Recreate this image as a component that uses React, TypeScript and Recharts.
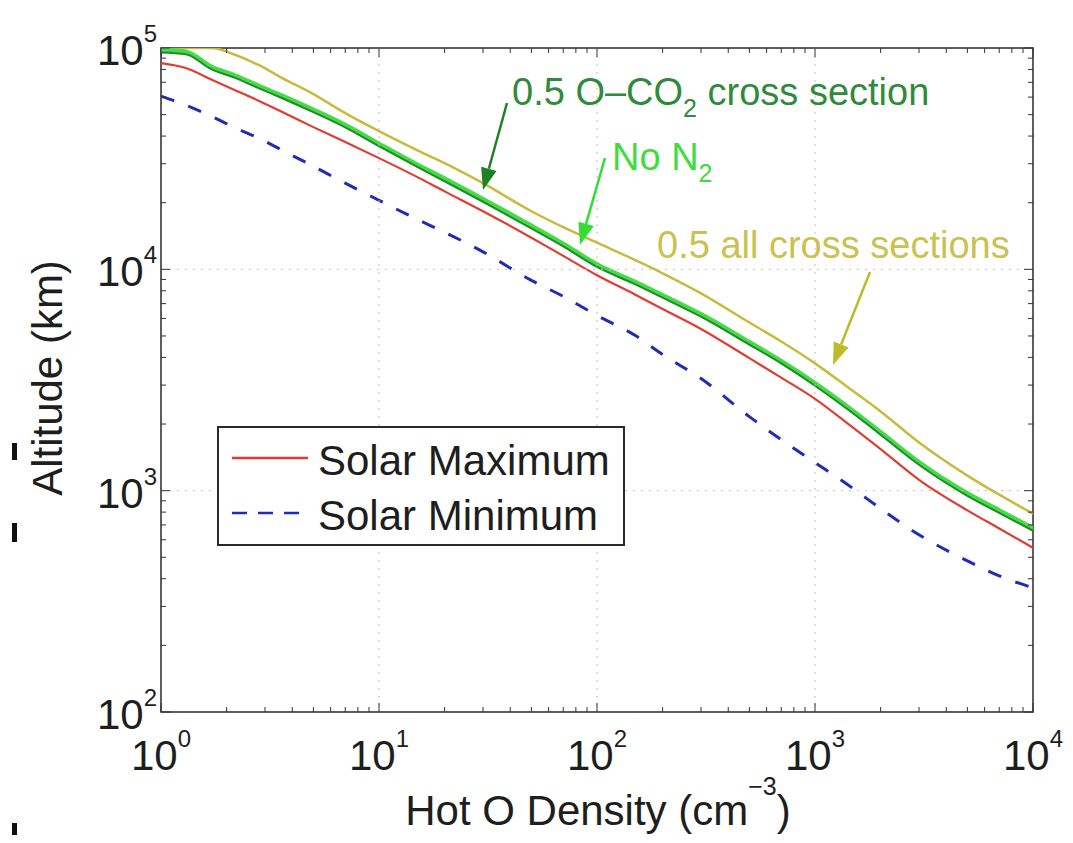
import React from 'react';
import { LineChart, Line, XAxis, YAxis, ReferenceArea, Legend } from 'recharts';

// ---------- data ----------
const densities = [1, 1.3, 1.7, 2.2, 2.8, 3.6, 5, 7, 10, 15, 20, 30, 50, 70, 100, 150, 200, 300, 500, 700, 1000, 1500, 2000, 3000, 5000, 7000, 10000];
const solarMax = [85500, 81200, 72100, 64300, 57800, 51400, 43900, 37600, 31800, 26100, 22500, 18300, 13900, 11500, 9400, 7680, 6620, 5380, 3970, 3240, 2600, 1920, 1540, 1120, 815, 675, 552];
const solarMin = [60600, 55200, 49200, 43500, 39200, 34500, 29200, 24500, 20500, 16800, 14700, 12000, 8910, 7550, 6190, 5020, 4120, 3210, 2160, 1700, 1340, 1020, 829, 632, 482, 412, 364];
const noN2 = [97900, 95900, 82000, 74700, 67300, 60600, 52400, 44800, 36800, 29600, 25600, 20700, 15700, 13000, 10500, 8740, 7620, 6250, 4670, 3840, 3050, 2280, 1830, 1340, 969, 812, 674];
const halfOCO2 = [95500, 93800, 80200, 73100, 65900, 59300, 51300, 43800, 36000, 29000, 25000, 20200, 15300, 12700, 10250, 8550, 7450, 6110, 4570, 3760, 2980, 2230, 1790, 1310, 948, 794, 659];
const halfAll = [100000, 100000, 100000, 93000, 83800, 73100, 61900, 50800, 42100, 34500, 30200, 24500, 18300, 15500, 13200, 11000, 9600, 7790, 5750, 4720, 3760, 2810, 2280, 1650, 1170, 959, 787];

const xMajorTicks = [1, 10, 100, 1000, 10000];
const yMajorTicks = [100, 1000, 10000, 100000];
const minorMultipliers = [2, 3, 4, 5, 6, 7, 8, 9];

const xTicks = [...xMajorTicks, ...xMajorTicks.slice(0, -1).flatMap((d) => minorMultipliers.map((m) => m * d))].sort((a, b) => a - b);
const yTicks = [...yMajorTicks, ...yMajorTicks.slice(0, -1).flatMap((d) => minorMultipliers.map((m) => m * d))].sort((a, b) => a - b);

const rows = densities.map((x, i) => ({
  x,
  max: solarMax[i],
  min: solarMin[i],
  noN2: noN2[i],
  halfOCO2: halfOCO2[i],
  halfAll: halfAll[i],
}));

// ---------- layout / style ----------
const W = 1073;
const H = 843;
const PLOT_TOP = 48;
const PLOT_BOTTOM = 712;
const PLOT_LEFT = 161;
const PLOT_RIGHT = 1033;
const FONT = '"Liberation Sans", Arial, Helvetica, sans-serif';
const TEXT = '#1e1e1e';
const AXIS_FS = 42;
const NOTE_FS = 38;

const RED = '#e03c32';
const BLUE = '#1f2db4';
const YELLOW = '#c8ba3c';
const BRIGHT_GREEN = '#46dc46';
const DARK_GREEN = '#1f8c2a';

const isMajor = (v: number) => {
  const lg = Math.log10(v);
  return Math.abs(lg - Math.round(lg)) < 1e-6;
};

const XTick = (props: any) => {
  const { x, payload } = props;
  const v = payload.value;
  const major = isMajor(v);
  const len = major ? 9 : 5;
  const exp = Math.round(Math.log10(v));
  return (
    <g>
      {major && v > 1 && v < 10000 && (
        <line x1={x} x2={x} y1={PLOT_TOP} y2={PLOT_BOTTOM} stroke="#bdbdbd" strokeWidth={1} strokeDasharray="2 6" />
      )}
      <line x1={x} x2={x} y1={PLOT_BOTTOM} y2={PLOT_BOTTOM - len} stroke="#333" strokeWidth={1} />
      <line x1={x} x2={x} y1={PLOT_TOP} y2={PLOT_TOP + len} stroke="#333" strokeWidth={1} />
      {major && (
        <text x={x} y={770} textAnchor="middle" fontFamily={FONT} fontSize={AXIS_FS} fill={TEXT}>
          <tspan>10</tspan>
          <tspan dy={-23} fontSize={24}>{exp}</tspan>
        </text>
      )}
    </g>
  );
};

const YTick = (props: any) => {
  const { y, payload } = props;
  const v = payload.value;
  const major = isMajor(v);
  const len = major ? 9 : 5;
  const exp = Math.round(Math.log10(v));
  return (
    <g>
      {major && v > 100 && v < 100000 && (
        <line x1={PLOT_LEFT} x2={PLOT_RIGHT} y1={y} y2={y} stroke="#bdbdbd" strokeWidth={1} strokeDasharray="2 6" />
      )}
      <line x1={PLOT_LEFT} x2={PLOT_LEFT + len} y1={y} y2={y} stroke="#333" strokeWidth={1} />
      <line x1={PLOT_RIGHT} x2={PLOT_RIGHT - len} y1={y} y2={y} stroke="#333" strokeWidth={1} />
      {major && (
        <text x={157} y={y + 17} textAnchor="end" fontFamily={FONT} fontSize={AXIS_FS} fill={TEXT}>
          <tspan>10</tspan>
          <tspan dy={-23} fontSize={24}>{exp}</tspan>
        </text>
      )}
    </g>
  );
};

const legendItems = [
  { name: 'Solar Maximum', color: RED, dash: undefined as string | undefined },
  { name: 'Solar Minimum', color: BLUE, dash: '15 11' },
];

const LegendBox = () => (
  <svg width={408} height={120} style={{ display: 'block' }}>
    <rect x={1} y={1} width={406} height={118} fill="#fff" stroke="#2a2a2a" strokeWidth={2} />
    {legendItems.map((it, i) => (
      <g key={it.name}>
        <line x1={15} x2={91} y1={32 + i * 55} y2={32 + i * 55} stroke={it.color} strokeWidth={2.5} strokeDasharray={it.dash} />
        <text x={101} y={49 + i * 55} fontFamily={FONT} fontSize={AXIS_FS} fill={TEXT}>{it.name}</text>
      </g>
    ))}
  </svg>
);

const Arrow = ({ x1, y1, x2, y2, color }: { x1: number; y1: number; x2: number; y2: number; color: string }) => {
  const dx = x2 - x1;
  const dy = y2 - y1;
  const L = Math.sqrt(dx * dx + dy * dy);
  const ux = dx / L;
  const uy = dy / L;
  const hl = 22;
  const hw = 8;
  const bx = x2 - ux * hl;
  const by = y2 - uy * hl;
  const p1 = `${bx - uy * hw},${by + ux * hw}`;
  const p2 = `${bx + uy * hw},${by - ux * hw}`;
  return (
    <g>
      <line x1={x1} y1={y1} x2={bx} y2={by} stroke={color} strokeWidth={2.5} />
      <polygon points={`${x2},${y2} ${p1} ${p2}`} fill={color} />
    </g>
  );
};

export default function App() {
  return (
    <div style={{ position: 'absolute', left: 0, top: 0, width: W, height: H, background: '#fff', overflow: 'hidden' }}>
      <LineChart width={W} height={H} data={rows} margin={{ top: PLOT_TOP, right: W - PLOT_RIGHT, left: PLOT_LEFT - 100, bottom: H - PLOT_BOTTOM - 60 }}>
        <XAxis
          dataKey="x"
          type="number"
          scale="log"
          domain={[1, 10000]}
          allowDataOverflow
          ticks={xTicks}
          interval={0}
          tick={<XTick />}
          tickLine={false}
          axisLine={false}
          height={60}
        />
        <YAxis
          type="number"
          scale="log"
          domain={[100, 100000]}
          allowDataOverflow
          ticks={yTicks}
          interval={0}
          tick={<YTick />}
          tickLine={false}
          axisLine={false}
          width={100}
        />
        <ReferenceArea x1={1} x2={10000} y1={100} y2={100000} fill="none" stroke="#2a2a2a" strokeWidth={1.5} ifOverflow="visible" />
        <Line type="monotone" dataKey="halfAll" name="0.5 all cross sections" stroke={YELLOW} strokeWidth={2.5} dot={false} legendType="none" isAnimationActive={false} />
        <Line type="monotone" dataKey="noN2" name="No N2" stroke={BRIGHT_GREEN} strokeWidth={5} dot={false} legendType="none" isAnimationActive={false} />
        <Line type="monotone" dataKey="halfOCO2" name="0.5 O-CO2 cross section" stroke={DARK_GREEN} strokeWidth={2} dot={false} legendType="none" isAnimationActive={false} />
        <Line type="monotone" dataKey="max" name="Solar Maximum" stroke={RED} strokeWidth={2.2} dot={false} isAnimationActive={false} />
        <Line type="monotone" dataKey="min" name="Solar Minimum" stroke={BLUE} strokeWidth={3} strokeDasharray="14 15" dot={false} isAnimationActive={false} />
        <Legend
          layout="horizontal"
          verticalAlign="middle"
          align="center"
          width={408}
          height={120}
          wrapperStyle={{ left: 217, top: 426, width: 408, height: 120 }}
          content={() => <LegendBox />}
        />
      </LineChart>

      <svg width={W} height={H} style={{ position: 'absolute', left: 0, top: 0, pointerEvents: 'none' }}>
        {/* axis titles */}
        <text x={598} y={825} textAnchor="middle" fontFamily={FONT} fontSize={AXIS_FS} fill={TEXT}>
          <tspan>Hot O Density (cm</tspan>
          <tspan dy={-30} fontSize={25}>−3</tspan>
          <tspan dy={30}>)</tspan>
        </text>
        <text transform="translate(62,378) rotate(-90)" textAnchor="middle" fontFamily={FONT} fontSize={AXIS_FS} fill={TEXT}>
          Altitude (km)
        </text>

        {/* annotations */}
        <text x={512} y={105} fontFamily={FONT} fontSize={NOTE_FS} fill="#2f8a3c">
          <tspan>0.5 O–CO</tspan>
          <tspan dy={12} fontSize={25}>2</tspan>
          <tspan dy={-12}> cross section</tspan>
        </text>
        <Arrow x1={507} y1={103} x2={483} y2={190} color="#1f8028" />

        <text x={612} y={170} fontFamily={FONT} fontSize={NOTE_FS} fill="#3fdc3f">
          <tspan>No N</tspan>
          <tspan dy={12} fontSize={25}>2</tspan>
        </text>
        <Arrow x1={605} y1={158} x2={580} y2={245} color="#33dd33" />

        <text x={657} y={258} fontFamily={FONT} fontSize={NOTE_FS} fill="#c9c250">
          0.5 all cross sections
        </text>
        <Arrow x1={870} y1={272} x2={833} y2={365} color="#bdbb2a" />
      </svg>

      {/* stray marks at the left edge of the reference */}
      <div style={{ position: 'absolute', left: 12, top: 443, width: 5, height: 17, background: '#111' }} />
      <div style={{ position: 'absolute', left: 12, top: 523, width: 5, height: 19, background: '#111' }} />
      <div style={{ position: 'absolute', left: 12, top: 823, width: 5, height: 12, background: '#111' }} />
    </div>
  );
}
